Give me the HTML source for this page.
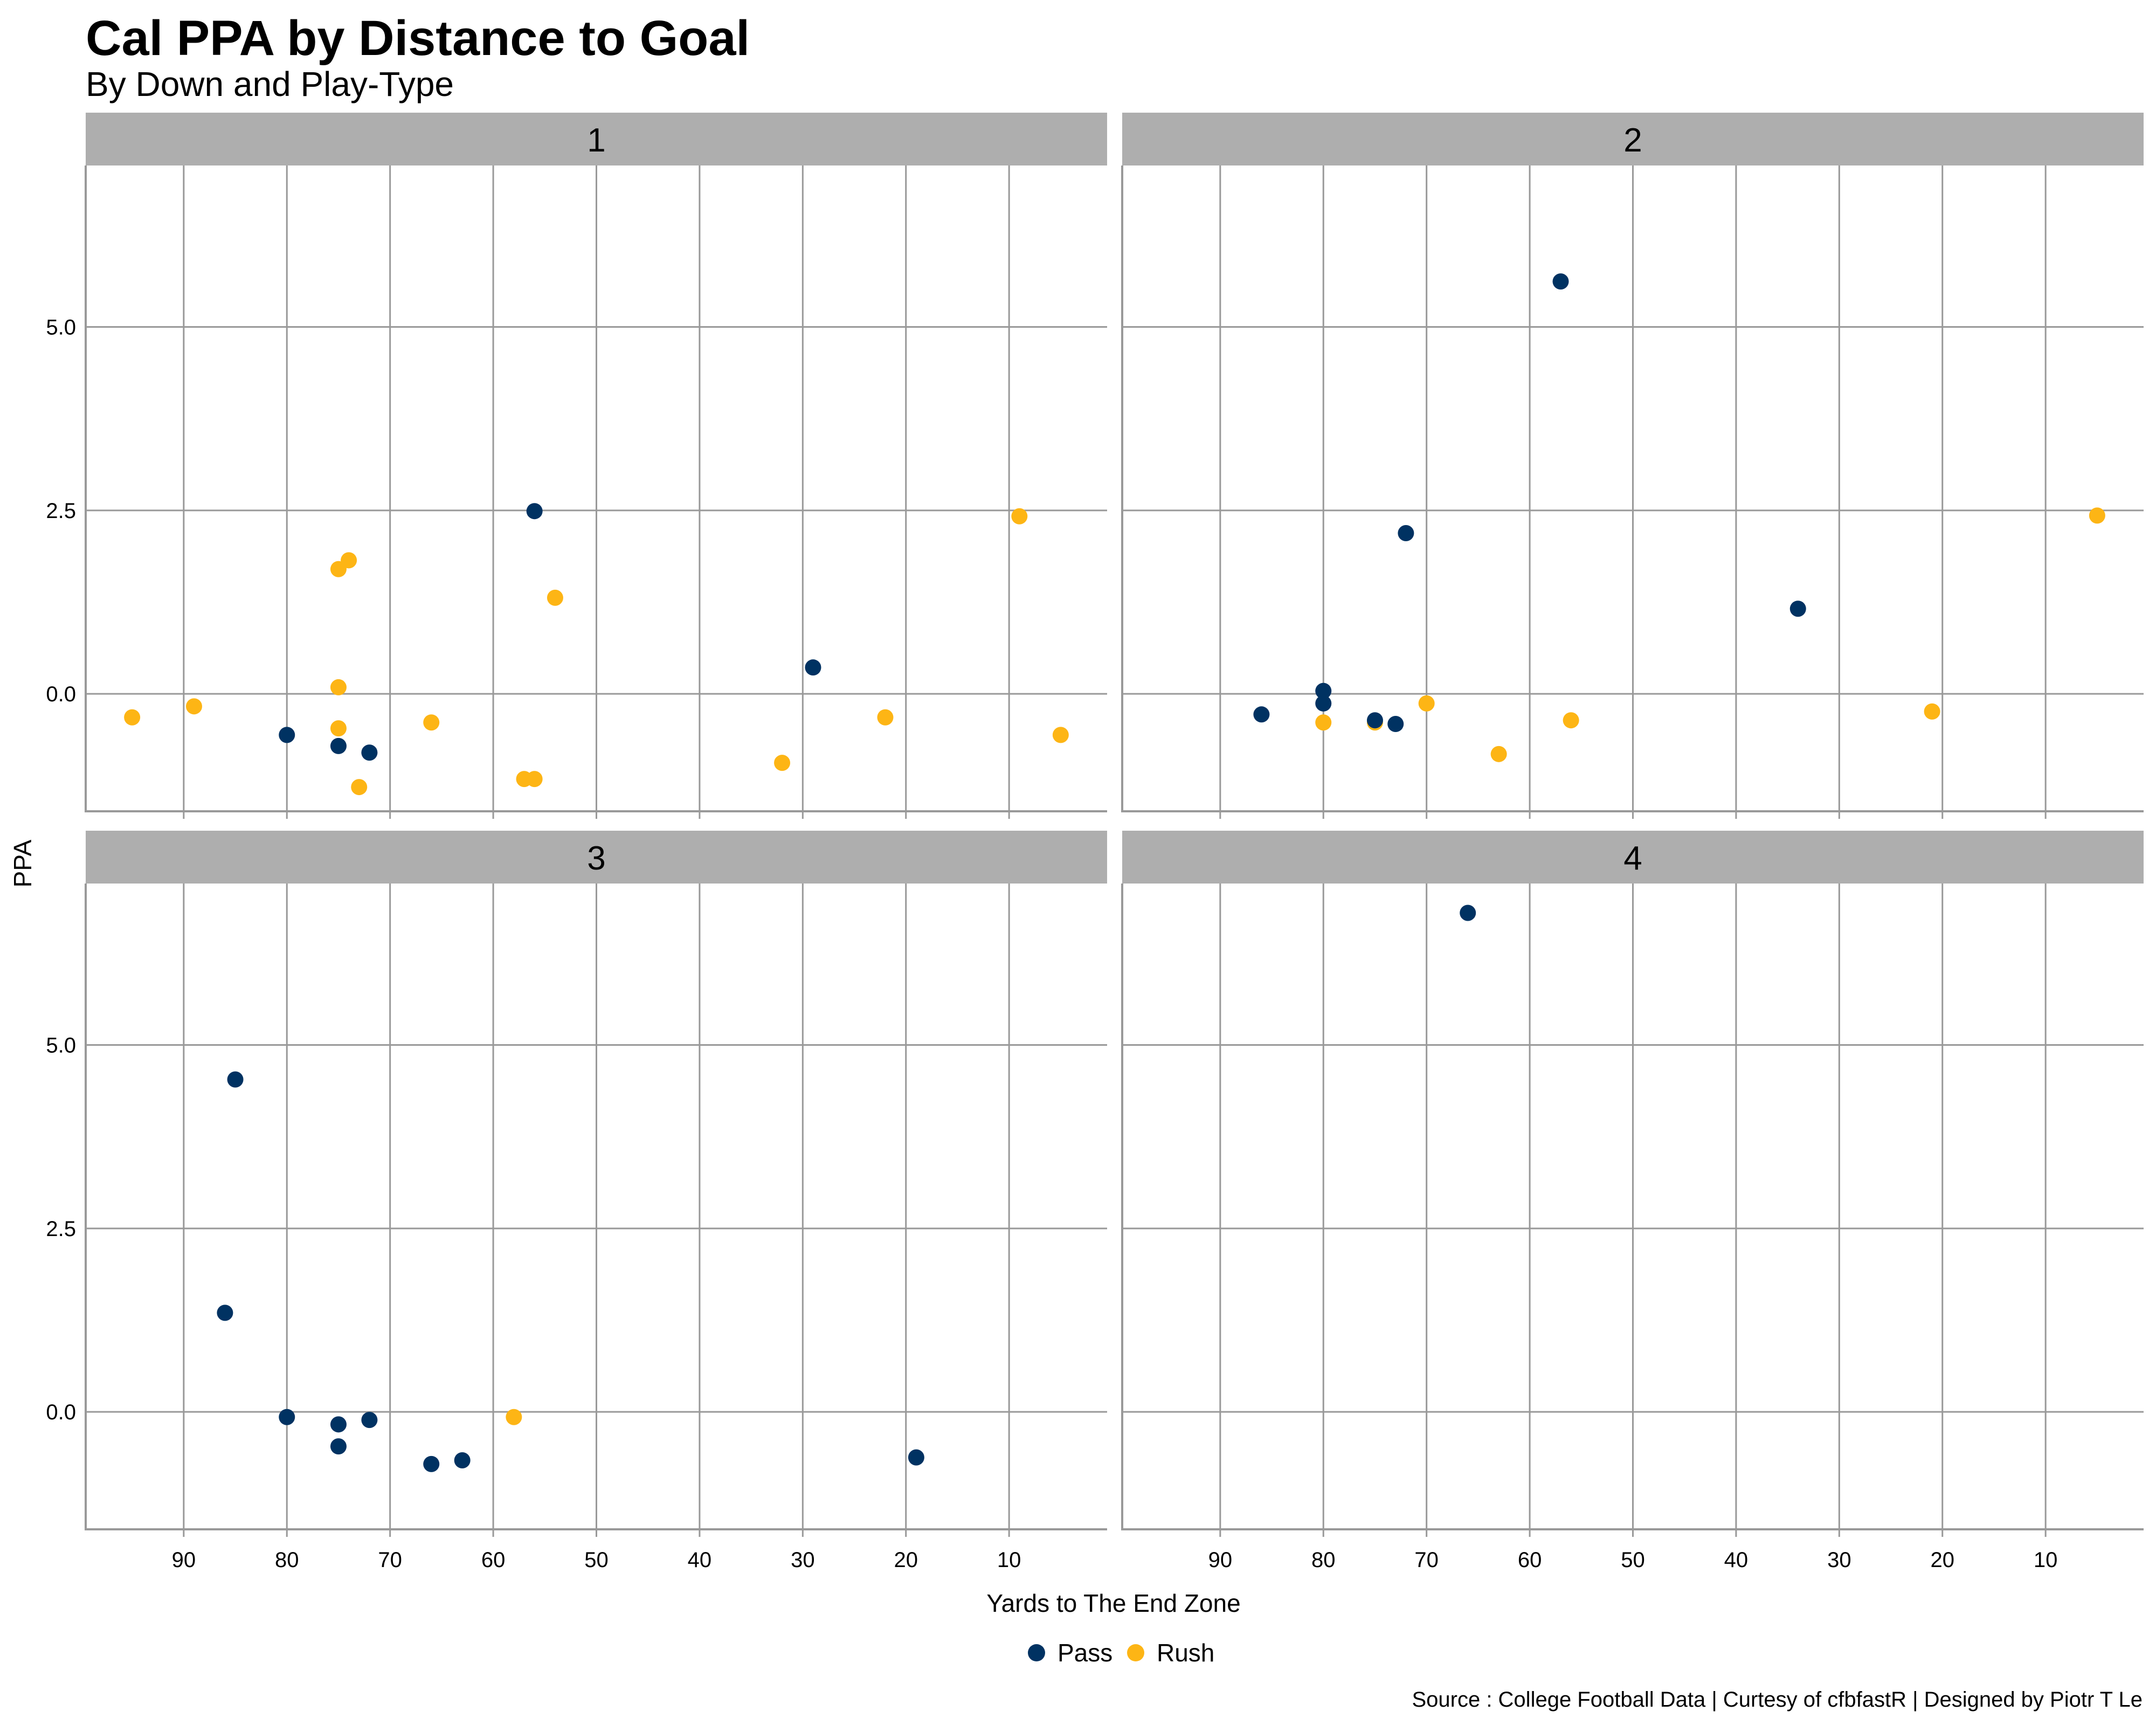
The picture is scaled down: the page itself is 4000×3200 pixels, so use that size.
<!DOCTYPE html>
<html><head><meta charset="utf-8"><style>
html,body{margin:0;padding:0;background:#fff;}
svg{display:block;font-family:"Liberation Sans",sans-serif;}
</style></head><body>
<svg id="chart" width="4000" height="3200" viewBox="0 0 4000 3200">
<text x="159" y="102" font-size="92" font-weight="bold" fill="#000">Cal PPA by Distance to Goal</text>
<text x="159" y="178" font-size="64" fill="#000">By Down and Play-Type</text>
<g id="panels"></g>
<text x="2066" y="2990" font-size="46" text-anchor="middle">Yards to The End Zone</text>
<text transform="translate(58,1602) rotate(-90)" font-size="46" text-anchor="middle">PPA</text>
<g>
<circle cx="1923" cy="3066" r="16" fill="#003262"/>
<text x="1962" y="3082" font-size="46">Pass</text>
<circle cx="2107" cy="3066" r="16" fill="#FDB515"/>
<text x="2146" y="3082" font-size="46">Rush</text>
</g>
<text x="3975" y="3166" font-size="40" text-anchor="end">Source : College Football Data | Curtesy of cfbfastR | Designed by Piotr T Le</text>
</svg>
<script>
const downs = ["1","2","3","4"];
const xTicks = [90,80,70,60,50,40,30,20,10];
const yTicks = [0,2.5,5];
const yTickLabels = ["0.0","2.5","5.0"];
const passX = [[80,75,72,56,29],[86,80,80,75,73,72,57,34],[85,86,80,75,75,72,66,63,19],[66]];
const passY = [[-0.56,-0.71,-0.8,2.49,0.36],[-0.28,0.04,-0.13,-0.36,-0.41,2.19,5.62,1.16],[4.53,1.35,-0.07,-0.17,-0.47,-0.11,-0.71,-0.66,-0.62],[6.8]];
const rushX = [[95,89,75,74,75,75,73,66,57,56,54,32,22,9,5],[80,75,70,63,56,21,5],[58],[]];
const rushY = [[-0.32,-0.17,1.7,1.82,0.09,-0.47,-1.27,-0.39,-1.16,-1.16,1.31,-0.94,-0.32,2.42,-0.56],[-0.39,-0.39,-0.13,-0.82,-0.36,-0.24,2.43],[-0.07],[]];

const NS="http://www.w3.org/2000/svg";
const root=document.getElementById('panels');
function mk(tag,attrs,parent){const e=document.createElementNS(NS,tag);for(const k in attrs)e.setAttribute(k,attrs[k]);parent.appendChild(e);return e;}
const panelW=1895, lefts=[159,2082], stripTops=[209,1541], plotTops=[307,1639], plotH=1198;
const X_MAX=99.5, X_MIN=0.5, Y_MAX=7.2, Y_MIN=-1.6;
downs.forEach((d,i)=>{
  const col=i%2,row=Math.floor(i/2);
  const L=lefts[col], T=plotTops[row];
  const xs=v=>L+(X_MAX-v)/(X_MAX-X_MIN)*panelW;
  const ys=v=>T+(Y_MAX-v)/(Y_MAX-Y_MIN)*plotH;
  const g=mk('g',{},root);
  
  
  const strip=mk('rect',{x:L,y:stripTops[row],width:panelW,height:T-stripTops[row],fill:'#aeaeae'},g);
  
  
  const st=mk('text',{x:L+panelW/2,y:stripTops[row]+72,'font-size':62,'font-weight':'500','text-anchor':'middle'},g);
  st.textContent=d;
  
  
  xTicks.forEach(t=>{
    const gl=mk('line',{x1:xs(t),x2:xs(t),y1:T,y2:T+plotH+14,stroke:'#999','stroke-width':3},g);
    
    
    if(row===1){
      const tl=mk('text',{x:xs(t),y:T+plotH+70,'font-size':40,'text-anchor':'middle'},g);
      tl.textContent=t;
      
      
    }
  });
  yTicks.forEach((t,j)=>{
    const gl=mk('line',{x1:L,x2:L+panelW,y1:ys(t),y2:ys(t),stroke:'#999','stroke-width':3},g);
    
    
    if(col===0){
      const tl=mk('text',{x:L-18,y:ys(t)+14,'font-size':40,'text-anchor':'end'},g);
      tl.textContent=yTickLabels[j];
      
      
    }
  });
  const ax=mk('path',{d:`M${L},${T} V${T+plotH} H${L+panelW}`,stroke:'#999','stroke-width':4,fill:'none'},g);
  
  
  rushX[i].forEach((x,k)=>{
    const c=mk('circle',{cx:xs(x),cy:ys(rushY[i][k]),r:15,fill:'#FDB515'},g);
    
    
  });
  passX[i].forEach((x,k)=>{
    const c=mk('circle',{cx:xs(x),cy:ys(passY[i][k]),r:15,fill:'#003262'},g);
    
    
  });
});
</script>
</body></html>
